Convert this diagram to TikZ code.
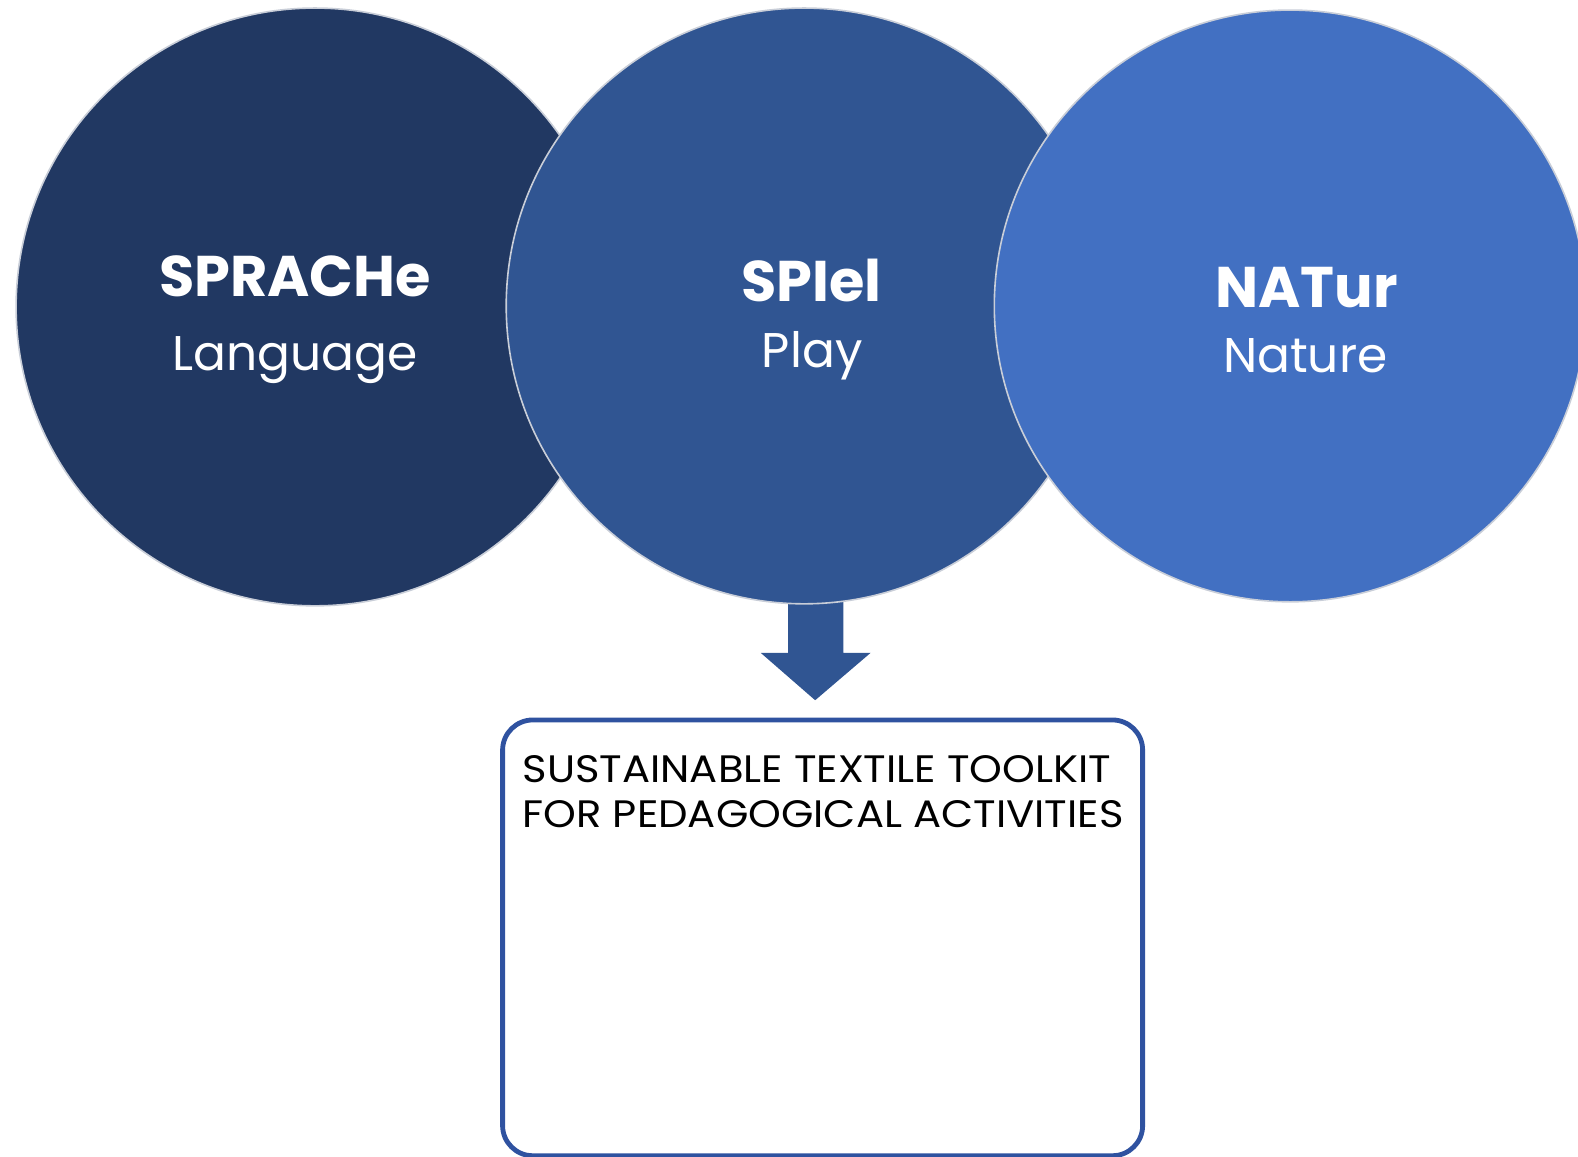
\documentclass[tikz,border=0pt]{standalone}
\usepackage{fontspec}
\setmainfont{Poppins}
\newfontfamily\widefont[FakeStretch=1.09]{Poppins}
\usetikzlibrary{backgrounds}
\definecolor{cdark}{HTML}{213862}
\definecolor{cmid}{HTML}{305592}
\definecolor{clight}{HTML}{4270C2}
\definecolor{cedge}{HTML}{C9CED8}
\definecolor{cbox}{HTML}{2F52A0}
\begin{document}
\begin{tikzpicture}[x=0.5pt,y=-0.5pt,
  circ/.style={circle,draw=cedge,line width=0.8pt,inner sep=0pt},
  bigword/.style={anchor=base,text=white,font=\fontsize{28.5}{34}\selectfont\bfseries},
  smallword/.style={anchor=base,text=white,font=\fontsize{24.2}{29}\selectfont},
  boxtext/.style={anchor=north west,align=left,inner sep=0pt,font=\widefont\fontsize{19}{22.5}\selectfont}]
\useasboundingbox (0,0) rectangle (1568,1149);
\node[circ,fill=cdark,minimum size=297pt] (c1) at (313,305) {};
\node[circ,fill=cmid,minimum size=296pt] (c2) at (799,304) {};
\node[circ,fill=clight,minimum size=294pt] (c3) at (1282,304) {};
\node[bigword] (t1) at (293,295) {SPRACHe};
\node[smallword] (s1) at (293,368) {Language};
\node[bigword] (t2) at (806,300) {SPIel};
\node[smallword] (s2) at (807,365) {Play};
\node[bigword] (t3) at (1298,306) {NATur};
\node[smallword] (s3) at (1297,370) {Nature};
\node[draw=cbox,line width=2.4pt,rounded corners=15pt,minimum width=318pt,minimum height=216.5pt,anchor=north west,inner sep=0pt] (box) at (497,713) {};
\node[boxtext] (bt) at (519,750) {SUSTAINABLE TEXTILE TOOLKIT\\FOR PEDAGOGICAL ACTIVITIES};
\coordinate (a0) at (c2.south);
\begin{pgfonlayer}{background}
\fill[cmid] ([xshift=-8pt,yshift=6pt]a0) -- ([xshift=-8pt,yshift=-24pt]a0) -- ([xshift=-21.5pt,yshift=-24pt]a0) -- ([xshift=5.5pt,yshift=-47.5pt]a0) -- ([xshift=33pt,yshift=-24pt]a0) -- ([xshift=19.5pt,yshift=-24pt]a0) -- ([xshift=19.5pt,yshift=6pt]a0) -- cycle;
\end{pgfonlayer}
\end{tikzpicture}
\end{document}
